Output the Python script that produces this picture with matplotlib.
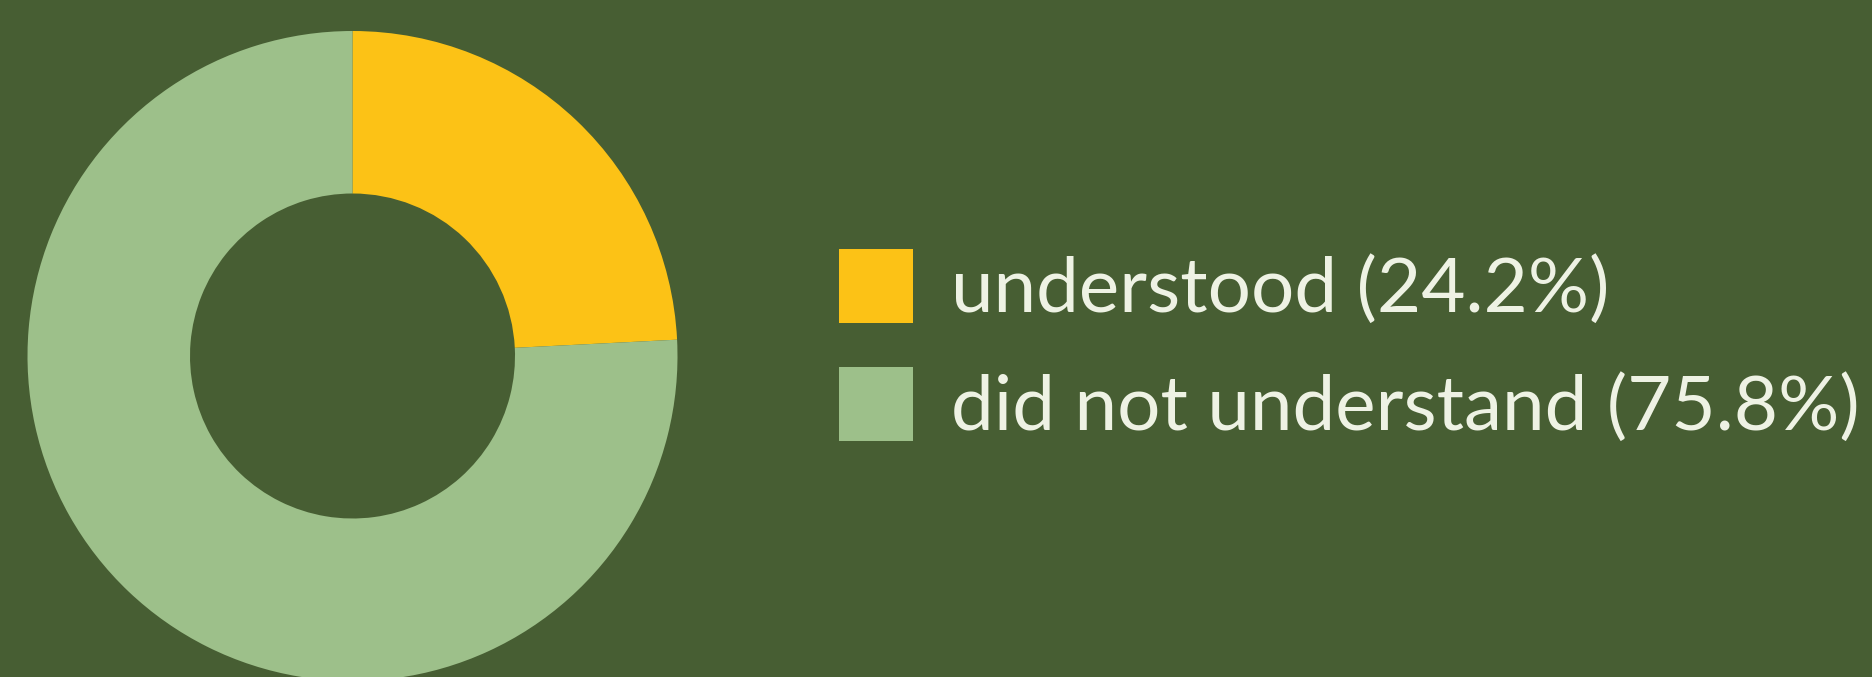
import matplotlib
matplotlib.use("Agg")
import matplotlib.pyplot as plt

categories = ["understood", "did not understand"]
values = [24.2, 75.8]
colors = ["#FCC216", "#9DC08A"]
bg = "#475E33"
text_color = "#EEF2E4"

W, H = 1872, 677
fig = plt.figure(figsize=(W / 100, H / 100), dpi=100, facecolor=bg)

# donut: centre (352.5, 356) px from top, outer radius 325 px
cx, cy, r = 352.5, 356, 325
ax = fig.add_axes([(cx - r) / W, (H - cy - r) / H, 2 * r / W, 2 * r / H])
ax.set_facecolor(bg)
wedges, _ = ax.pie(values, colors=colors, startangle=90, counterclock=False,
                   radius=1.0, wedgeprops=dict(width=0.5, linewidth=0))
ax.set_xlim(-1, 1)
ax.set_ylim(-1, 1)
ax.set_aspect("equal")
ax.axis("off")

labels = [f"{c} ({v:.1f}%)" for c, v in zip(categories, values)]
fs = 55
leg = fig.legend(wedges, labels, loc="center left",
                 bbox_to_anchor=(839 / W, 1 - 346 / H),
                 bbox_transform=fig.transFigure,
                 frameon=False,
                 prop={"family": "Lato", "size": fs},
                 handlelength=0.97, handleheight=1.11,
                 handletextpad=0.5, labelspacing=0.55,
                 borderpad=0, borderaxespad=0)
for t in leg.get_texts():
    t.set_color(text_color)

fig.savefig("out.png", dpi=100, facecolor=bg)
